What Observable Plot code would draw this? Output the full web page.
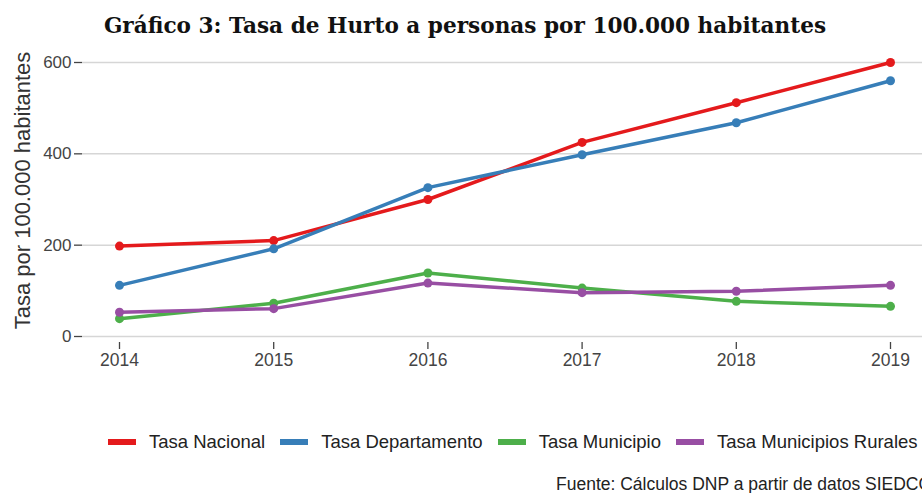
<!DOCTYPE html>
<html>
<head>
<meta charset="utf-8">
<script src="https://cdn.jsdelivr.net/npm/d3@7"></script>
<script src="https://cdn.jsdelivr.net/npm/@observablehq/plot@0.6"></script>
<style>
  html, body { margin: 0; padding: 0; background: #fff; }
  #wrap { position: relative; width: 922px; height: 493px; overflow: hidden; font-family: "Liberation Sans", Arial, sans-serif; }
  #title { position: absolute; left: 0; top: 11px; width: 930px; text-align: center; font-family: "DejaVu Serif", "Liberation Serif", serif; font-weight: bold; font-size: 21.6px; color: #111; line-height: 30px; }
  #chart { position: absolute; left: 0; top: 40px; }
  #legend { position: absolute; left: 108px; top: 431px; display: flex; align-items: center; font-size: 18.5px; color: #222; white-space: nowrap; }
  .item { display: flex; align-items: center; margin-right: 15px; }
  .sw { width: 28px; height: 6px; margin-right: 13px; }
  #caption { position: absolute; left: 556px; top: 474px; font-size: 17.5px; color: #222; white-space: nowrap; }
</style>
</head>
<body>
<div id="wrap">
  <div id="title">Gráfico 3: Tasa de Hurto a personas por 100.000 habitantes</div>
  <div id="chart"></div>
  <div id="legend"></div>
  <div id="caption">Fuente: Cálculos DNP a partir de datos SIEDCO</div>
</div>
<script>
const years = [2014, 2015, 2016, 2017, 2018, 2019];
const seriesNames = ["Tasa Nacional", "Tasa Departamento", "Tasa Municipio", "Tasa Municipios Rurales"];
const seriesColors = ["#E41A1C", "#377EB8", "#4DAF4A", "#984EA3"];
const tasaNacional = [198, 210, 300, 425, 512, 600];
const tasaDepartamento = [112, 192, 326, 398, 468, 560];
const tasaMunicipio = [39, 73, 139, 106, 77, 66];
const tasaMunicipiosRurales = [53, 61, 117, 96, 99, 112];
const yTicks = [0, 200, 400, 600];
const yLabel = "Tasa por 100.000 habitantes";

const allValues = [tasaNacional, tasaDepartamento, tasaMunicipio, tasaMunicipiosRurales];
const data = [];
seriesNames.forEach((s, i) => years.forEach((yr, j) => data.push({serie: s, year: yr, value: allValues[i][j]})));

const chart = Plot.plot({
  width: 922,
  height: 380,
  marginLeft: 82,
  marginRight: 0,
  marginTop: 22,
  marginBottom: 78,
  style: {fontFamily: "Liberation Sans, Arial, sans-serif", fontSize: "17px", color: "#444", background: "transparent", overflow: "visible"},
  x: {domain: [2014, 2019], range: [119, 890]},
  y: {domain: [0, 600], range: [296, 22]},
  color: {domain: seriesNames, range: seriesColors},
  marks: [
    Plot.ruleY(yTicks, {stroke: "#d6d6d6", strokeWidth: 1.5}),
    Plot.axisY({ticks: yTicks, tickSize: 8, tickPadding: 3, label: null, stroke: "#444", strokeWidth: 1.3, fontSize: 17, fill: "#444"}),
    Plot.axisX({ticks: years, tickFormat: "d", tickSize: 7, tickPadding: 4, label: null, stroke: "#444", strokeWidth: 1.3, fontSize: 17.5, fill: "#444"}),
    Plot.line(data, {x: "year", y: "value", z: "serie", stroke: "serie", strokeWidth: 3.5}),
    Plot.dot(data, {x: "year", y: "value", fill: "serie", r: 4.5}),
    Plot.text([yLabel], {frameAnchor: "left", textAnchor: "middle", dx: -60, dy: -12, rotate: -90, fontSize: 22, fill: "#333"})
  ]
});
document.getElementById("chart").appendChild(chart);

const legend = document.getElementById("legend");
seriesNames.forEach((s, i) => {
  const it = document.createElement("div");
  it.className = "item";
  const sw = document.createElement("div");
  sw.className = "sw";
  sw.style.background = seriesColors[i];
  const tx = document.createElement("span");
  tx.textContent = s;
  it.appendChild(sw);
  it.appendChild(tx);
  legend.appendChild(it);
});
</script>
</body>
</html>
